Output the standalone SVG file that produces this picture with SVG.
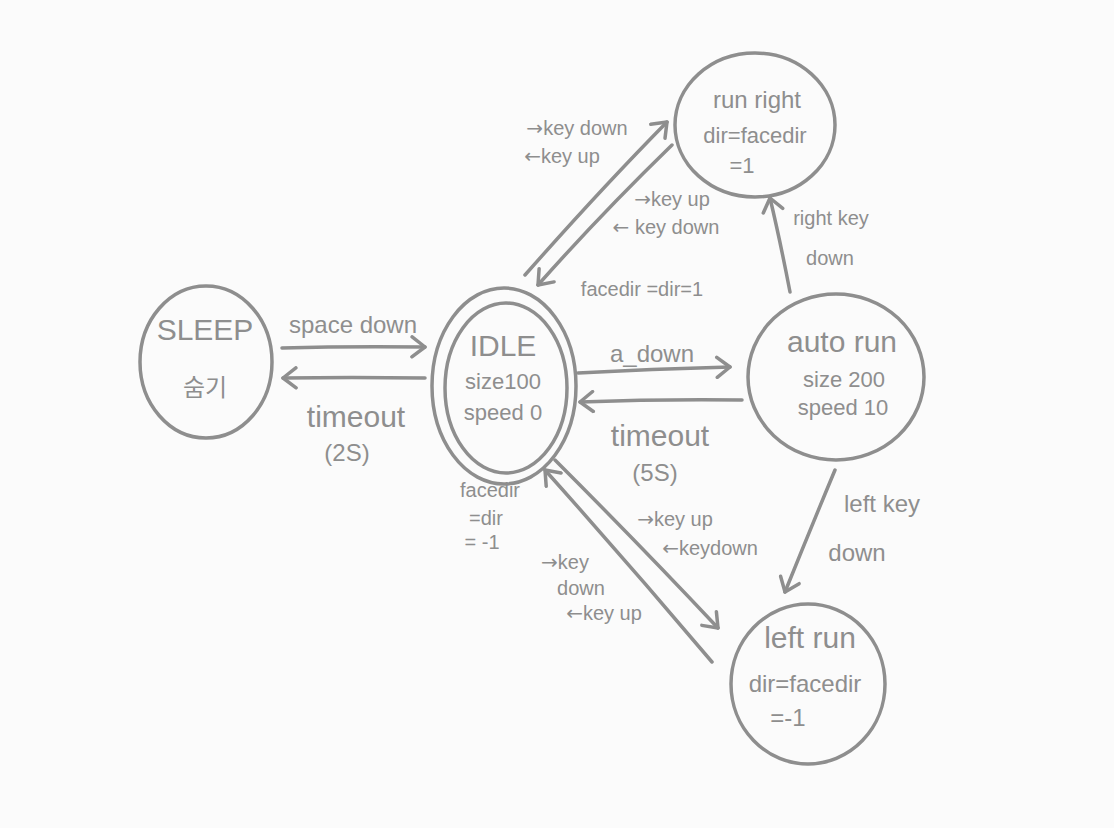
<svg xmlns="http://www.w3.org/2000/svg" width="1114" height="828" viewBox="0 0 1114 828">
<style>
.n{fill:none;stroke:#8e8e8e;stroke-width:3.5}
.c{fill:none;stroke:#8e8e8e;stroke-width:3.5;stroke-linecap:round;marker-end:url(#ah)}
text{font-family:"Liberation Sans","Noto Sans CJK KR",sans-serif;fill:#8e8e8e;text-anchor:middle}
.a{font-family:"DejaVu Sans",sans-serif}
.t{font-size:30px}
.s{font-size:22px}
.l{font-size:24px}
.x{font-size:20px}
</style>
<defs>
<marker id="ah" markerUnits="userSpaceOnUse" markerWidth="24" markerHeight="24" refX="16" refY="12" orient="auto" viewBox="0 0 24 24">
<path d="M3,2 L16,12 L3,22" fill="none" stroke="#8e8e8e" stroke-width="3.5" stroke-linecap="round" stroke-linejoin="round"/>
</marker>
</defs>
<rect width="1114" height="828" fill="#fbfbfb"/>
<g id="sleep">
<ellipse class="n" cx="206" cy="362" rx="66" ry="76"/>
<text class="t" x="205" y="340">SLEEP</text>
<text class="l" x="205" y="396">숨기</text>
</g>
<g id="idle">
<ellipse class="n" cx="504" cy="386" rx="72" ry="98"/>
<ellipse class="n" cx="506" cy="388" rx="61" ry="85"/>
<text class="t" x="503" y="356">IDLE</text>
<text class="s" x="503" y="389">size100</text>
<text class="s" x="503" y="420">speed 0</text>
</g>
<g id="runright">
<ellipse class="n" cx="755" cy="125" rx="80" ry="72"/>
<text class="l" x="757" y="108">run right</text>
<text class="s" x="755" y="143">dir=facedir</text>
<text class="s" x="742" y="173">=1</text>
</g>
<g id="autorun">
<ellipse class="n" cx="836" cy="377" rx="88" ry="83"/>
<text class="t" x="842" y="352">auto run</text>
<text class="s" x="844" y="387">size 200</text>
<text class="s" x="843" y="415">speed 10</text>
</g>
<g id="leftrun">
<ellipse class="n" cx="808" cy="684" rx="77" ry="80"/>
<text class="t" x="810" y="648">left run</text>
<text class="l" x="805" y="692">dir=facedir</text>
<text class="l" x="788" y="726">=-1</text>
</g>
<g id="connectors">
<path class="c" d="M282,348 Q350,346 425,347"/>
<path class="c" d="M425,378 Q350,377 283,378"/>
<path class="c" d="M578,373 Q650,369 730,367"/>
<path class="c" d="M742,400 Q660,399 580,402"/>
<path class="c" d="M525,275 Q600,190 667,122"/>
<path class="c" d="M672,145 Q600,215 538,285"/>
<path class="c" d="M790,292 Q780,240 770,198"/>
<path class="c" d="M835,470 Q810,530 785,592"/>
<path class="c" d="M555,460 Q640,545 718,628"/>
<path class="c" d="M712,662 Q630,565 545,470"/>
</g>
<g id="labels">
<text class="l" x="353" y="333">space down</text>
<text class="t" x="356" y="427">timeout</text>
<text class="l" x="347" y="461">(2S)</text>
<text class="l" x="652" y="362">a_down</text>
<text class="t" x="660" y="446">timeout</text>
<text class="l" x="655" y="481">(5S)</text>
<text class="x" x="577" y="135"><tspan class="a">→</tspan>key down</text>
<text class="x" x="562" y="163"><tspan class="a">←</tspan>key up</text>
<text class="x" x="672" y="206"><tspan class="a">→</tspan>key up</text>
<text class="x" x="666" y="234"><tspan class="a">←</tspan> key down</text>
<text class="x" x="642" y="296">facedir =dir=1</text>
<text class="x" x="831" y="225">right key</text>
<text class="x" x="830" y="265">down</text>
<text class="x" x="490" y="497">facedir</text>
<text class="x" x="486" y="525">=dir</text>
<text class="x" x="482" y="549">= -1</text>
<text class="x" x="675" y="526"><tspan class="a">→</tspan>key up</text>
<text class="x" x="710" y="555"><tspan class="a">←</tspan>keydown</text>
<text class="x" x="565" y="569"><tspan class="a">→</tspan>key</text>
<text class="x" x="581" y="595">down</text>
<text class="x" x="604" y="620"><tspan class="a">←</tspan>key up</text>
<text class="l" x="882" y="512">left key</text>
<text class="l" x="857" y="561">down</text>
</g>
</svg>
